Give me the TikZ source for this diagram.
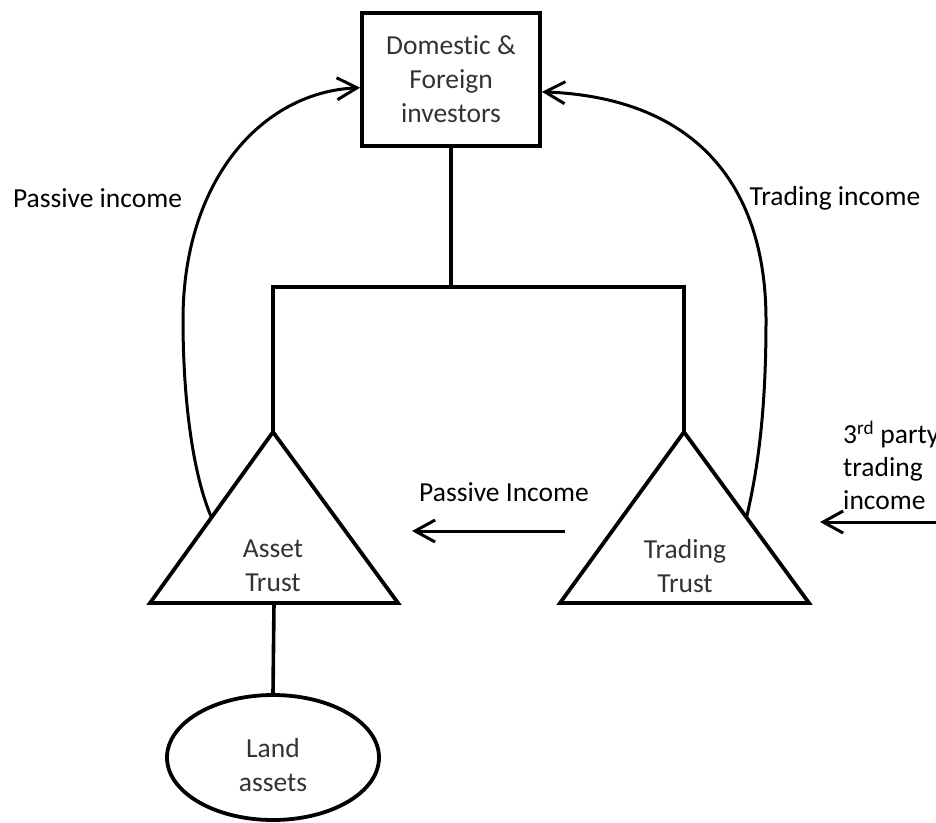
\documentclass[tikz,border=0pt]{standalone}
\usepackage{fontspec}
\setmainfont{Carlito}[Ligatures={NoCommon}]
\usetikzlibrary{arrows.meta,shapes.geometric,calc}
\begin{document}
\begin{tikzpicture}[x=1pt,y=-1pt,
  shapeline/.style={line width=3.8pt, line join=miter},
  link/.style={line width=3.6pt},
  flow/.style={line width=3pt, -{Straight Barb[length=20pt,width=22pt,line width=3pt]}},
  nodetext/.style={font=\fontsize{27.5}{34}\selectfont, text=black!80, align=center},
  lbl/.style={font=\fontsize{27.5}{33}\selectfont, text=black, inner sep=0pt}]
\useasboundingbox (0,0) rectangle (936,822);

% investors box
\node[draw, shapeline, minimum width=178pt, minimum height=133pt, inner sep=0pt, nodetext] (inv) at (451,79.5) {Domestic \&\\Foreign\\investors};

% Asset trust triangle
\coordinate (atA) at (273,432);
\coordinate (atL) at (150,603);
\coordinate (atR) at (398,603);
\draw[shapeline] (atA) -- (atR) -- (atL) -- cycle;
\node[nodetext, inner sep=0pt] (at) at (273,566) {Asset\\Trust};

% Trading trust triangle
\coordinate (ttA) at (684,432);
\coordinate (ttL) at (560,603);
\coordinate (ttR) at (809,603);
\draw[shapeline] (ttA) -- (ttR) -- (ttL) -- cycle;
\node[nodetext, inner sep=0pt] (tt) at (685,566) {Trading\\Trust};

% Land assets
\node[draw, ellipse, shapeline, minimum width=212pt, minimum height=125pt, inner sep=0pt,
  label={[nodetext, inner sep=0pt, yshift=-8pt]center:{Land\\assets}}] (land) at (273,757.5) {};

% tree connectors
\coordinate (bar) at (451,287);
\draw[link] (inv.south) -- (bar);
\draw[link] (atA) |- (bar) -| (ttA);
\coordinate (atB) at ($(atL)!0.5!(atR)$);
\draw[link] (atB) -- (land.north);

% income flows to investors
\coordinate (invL) at ($(inv.north west)!0.56!(inv.south west)$);
\coordinate (invR) at ($(inv.north east)!0.59!(inv.south east)$);
\coordinate (atS) at ($(atA)!0.5!(atL)$);
\coordinate (ttS) at ($(ttA)!0.5!(ttR)$);
\draw[flow] (atS) .. controls (193,475) and (183,400) .. (183,320)
  .. controls (183,180) and (262,92) .. (invL);
\draw[flow] (ttS) .. controls (760,460) and (766,400) .. (766,320)
  .. controls (766,190) and (700,98) .. (invR);
\node[lbl] (lpi) at (97.5,198) {Passive income};
\node[lbl] (lti) at (835,198) {Trading income};

% passive income between trusts
\coordinate (piS) at (565,531);
\coordinate (piE) at (412,531);
\draw[flow] (piS) -- (piE);
\node[lbl] (lpi2) at (504,492) {Passive Income};

% third party trading income
\coordinate (tpS) at (950,522);
\coordinate (tpE) at (820,522);
\draw[flow] (tpS) -- (tpE);
\node[lbl, anchor=west, align=left] (ltp) at (843,465) {3\textsuperscript{rd} party\\trading\\income};
\end{tikzpicture}
\end{document}
